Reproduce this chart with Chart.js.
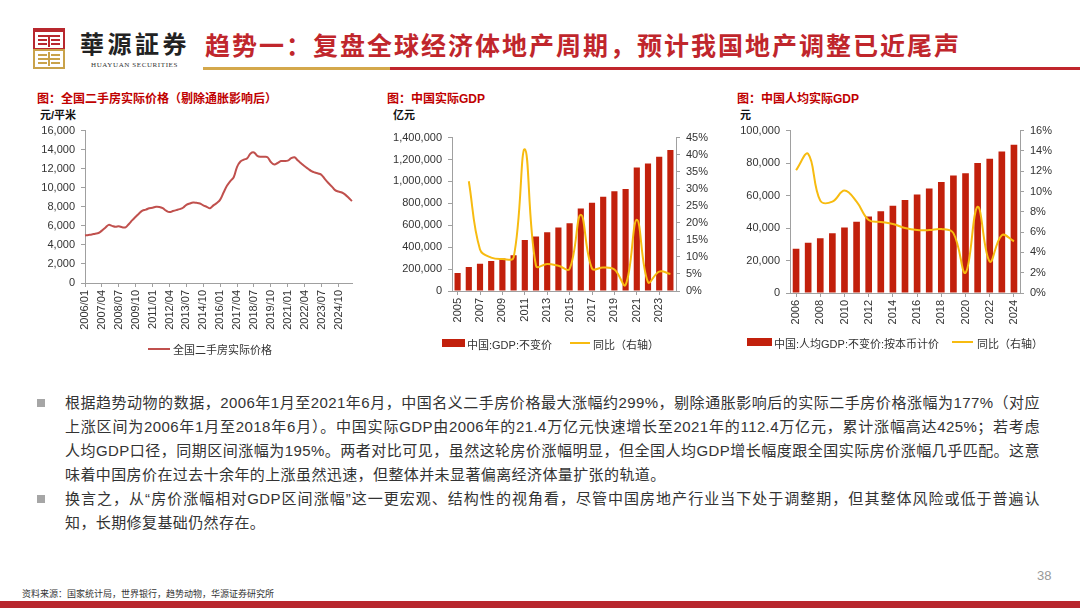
<!DOCTYPE html>
<html>
<head>
<meta charset="utf-8">
<script src="https://cdn.jsdelivr.net/npm/chart.js@4/dist/chart.umd.min.js"></script>
<style>
  html, body { margin: 0; padding: 0; background: #fff; }
  body { width: 1080px; height: 608px; position: relative; overflow: hidden;
         font-family: "Liberation Sans", Arial, "Noto Sans CJK SC", sans-serif; color: #333; }
  .abs { position: absolute; white-space: nowrap; }
  .ctitle { font-size: 12px; font-weight: bold; color: #c00000; font-family: "Liberation Sans", "Noto Sans CJK SC", sans-serif; }
  .unit { font-size: 11px; font-weight: bold; color: #111; }
  .leg { font-size: 11px; color: #333; }
  canvas { position: absolute; }
  .para { position: absolute; left: 65px; width: 975px; font-size: 15px; line-height: 24px; color: #333; letter-spacing: 0.4px; }
  .ln { white-space: nowrap; }
  .j { text-align: justify; text-align-last: justify; }
  .bullet { position: absolute; left: 37px; width: 8px; height: 8px; background: #a6a6a6; }
</style>
</head>
<body>

<!-- header -->
<svg class="abs" style="left:33px;top:28px" width="32" height="41" viewBox="0 0 32 41">
  <rect x="1" y="1" width="30" height="20" fill="none" stroke="#b8282e" stroke-width="2"/>
  <rect x="1" y="1" width="30" height="3" fill="#b8282e"/>
  <rect x="5" y="7" width="22" height="2" fill="#b8282e"/>
  <rect x="5" y="11" width="9" height="2" fill="#b8282e"/>
  <rect x="18" y="11" width="9" height="2" fill="#b8282e"/>
  <rect x="5" y="15" width="9" height="2" fill="#b8282e"/>
  <rect x="18" y="15" width="9" height="2" fill="#b8282e"/>
  <rect x="15" y="7" width="2" height="12" fill="#b8282e"/>
  <rect x="1" y="22" width="30" height="18" fill="none" stroke="#c9a24a" stroke-width="2"/>
  <rect x="5" y="26" width="9" height="2" fill="#c9a24a"/>
  <rect x="18" y="26" width="9" height="2" fill="#c9a24a"/>
  <rect x="5" y="30" width="22" height="2" fill="#c9a24a"/>
  <rect x="5" y="34" width="9" height="2" fill="#c9a24a"/>
  <rect x="18" y="34" width="9" height="2" fill="#c9a24a"/>
  <rect x="15" y="24" width="2" height="14" fill="#c9a24a"/>
</svg>
<div class="abs" style="left:80px;top:28px;font-size:24px;font-weight:bold;letter-spacing:3.5px;color:#222;font-family:'Noto Sans CJK TC',sans-serif;line-height:30px">華源証券</div>
<div class="abs" style="left:91px;top:61px;font-size:7px;letter-spacing:0.6px;color:#333;font-family:'Liberation Serif',serif">HUAYUAN SECURITIES</div>
<div class="abs" style="left:205px;top:28px;font-size:25px;font-weight:bold;letter-spacing:2px;color:#c0262c;font-family:'Noto Sans CJK SC',sans-serif;line-height:33px">趋势一：复盘全球经济体地产周期，预计我国地产调整已近尾声</div>
<div class="abs" style="left:203px;top:67px;width:187px;height:3px;background:#d4a84b"></div>
<div class="abs" style="left:390px;top:67px;width:690px;height:3px;background:#c0262c"></div>

<!-- chart titles / units -->
<div class="abs ctitle" style="left:37px;top:89px">图：全国二手房实际价格（剔除通胀影响后）</div>
<div class="abs unit" style="left:40px;top:106px">元/平米</div>
<div class="abs ctitle" style="left:387px;top:89px">图：中国实际GDP</div>
<div class="abs unit" style="left:393px;top:106px">亿元</div>
<div class="abs ctitle" style="left:737px;top:89px">图：中国人均实际GDP</div>
<div class="abs unit" style="left:740px;top:106px">元</div>

<canvas id="c1" width="330" height="230" style="left:30px;top:118px"></canvas>
<canvas id="c2" width="330" height="215" style="left:385px;top:125px"></canvas>
<canvas id="c3" width="330" height="222" style="left:735px;top:118px"></canvas>

<!-- legends -->
<div class="abs" style="left:148px;top:348px;width:22px;height:2px;background:#c0504d"></div>
<div class="abs leg" style="left:173px;top:341px">全国二手房实际价格</div>

<div class="abs" style="left:442px;top:339px;width:23px;height:8px;background:#c2200c"></div>
<div class="abs leg" style="left:467px;top:336px">中国:GDP:不变价</div>
<div class="abs" style="left:570px;top:342px;width:20px;height:2px;background:#f7bb10"></div>
<div class="abs leg" style="left:593px;top:336px">同比（右轴）</div>

<div class="abs" style="left:747px;top:338px;width:25px;height:8px;background:#c2200c"></div>
<div class="abs leg" style="left:774px;top:335px">中国:人均GDP:不变价:按本币计价</div>
<div class="abs" style="left:952px;top:341px;width:21px;height:2px;background:#f7bb10"></div>
<div class="abs leg" style="left:977px;top:335px">同比（右轴）</div>

<!-- body text -->
<div class="bullet" style="top:399px"></div>
<div class="bullet" style="top:495px"></div>
<div class="para" style="top:391px">
  <div class="ln j">根据趋势动物的数据，2006年1月至2021年6月，中国名义二手房价格最大涨幅约299%，剔除通胀影响后的实际二手房价格涨幅为177%（对应</div>
  <div class="ln j">上涨区间为2006年1月至2018年6月）。中国实际GDP由2006年的21.4万亿元快速增长至2021年的112.4万亿元，累计涨幅高达425%；若考虑</div>
  <div class="ln j">人均GDP口径，同期区间涨幅为195%。两者对比可见，虽然这轮房价涨幅明显，但全国人均GDP增长幅度跟全国实际房价涨幅几乎匹配。这意</div>
  <div class="ln">味着中国房价在过去十余年的上涨虽然迅速，但整体并未显著偏离经济体量扩张的轨道。</div>
  <div class="ln j">换言之，从“房价涨幅相对GDP区间涨幅”这一更宏观、结构性的视角看，尽管中国房地产行业当下处于调整期，但其整体风险或低于普遍认</div>
  <div class="ln">知，长期修复基础仍然存在。</div>
</div>

<!-- footer -->
<div class="abs" style="left:1037px;top:568px;font-size:13px;color:#999">38</div>
<div class="abs" style="left:22px;top:587px;font-size:9px;color:#333;font-family:'Noto Sans CJK SC',sans-serif">资料来源：国家统计局，世界银行，趋势动物，华源证券研究所</div>
<div class="abs" style="left:0;top:601px;width:1080px;height:7px;background:#b8272d"></div>

<script>
// ---- 图1：全国二手房实际价格（季度取值）
const priceLabels = [
  '2006/01','2006/04','2006/07','2006/10','2007/01','2007/04','2007/07','2007/10',
  '2008/01','2008/04','2008/07','2008/10','2009/01','2009/04','2009/07','2009/10',
  '2010/01','2010/04','2010/07','2010/10','2011/01','2011/04','2011/07','2011/10',
  '2012/01','2012/04','2012/07','2012/10','2013/01','2013/04','2013/07','2013/10',
  '2014/01','2014/04','2014/07','2014/10','2015/01','2015/04','2015/07','2015/10',
  '2016/01','2016/04','2016/07','2016/10','2017/01','2017/04','2017/07','2017/10',
  '2018/01','2018/04','2018/07','2018/10','2019/01','2019/04','2019/07','2019/10',
  '2020/01','2020/04','2020/07','2020/10','2021/01','2021/04','2021/07','2021/10',
  '2022/01','2022/04','2022/07','2022/10','2023/01','2023/04','2023/07','2023/10',
  '2024/01','2024/04','2024/07','2024/10','2025/01','2025/04','2025/07','2025/10'
];
const priceValues = [
  4990, 5050, 5100, 5180, 5250, 5500, 5800, 6100,
  6000, 5900, 5950, 5850, 5850, 6200, 6600, 6950,
  7300, 7600, 7700, 7850, 7900, 8000, 7980, 7850,
  7600, 7450, 7550, 7650, 7750, 7900, 8200, 8350,
  8450, 8420, 8350, 8150, 8000, 7850, 8150, 8400,
  8750, 9500, 10200, 10700, 11100, 12200, 12750, 12950,
  13100, 13600, 13700, 13350, 13250, 13250, 13200, 12700,
  12450, 12600, 12800, 12800, 12850, 13100, 13200, 12850,
  12550, 12250, 12000, 11750, 11600, 11500, 11350, 10900,
  10500, 10150, 9750, 9600, 9500, 9280, 8950, 8600
];

// ---- 图2：中国实际GDP（亿元）及同比（%）
const gdpYears = ['2005','2006','2007','2008','2009','2010','2011','2012','2013','2014',
                  '2015','2016','2017','2018','2019','2020','2021','2022','2023','2024'];
const gdpValues = [165000, 219000, 249000, 273000, 296000, 327000, 465000, 498000, 537000, 579000,
                   618000, 752000, 806000, 860000, 911000, 932000, 1127000, 1163000, 1226000, 1286000];
const gdpYoY = [null, 32.2, 12.2, 9.8, 9.4, 9.8, 41.6, 7.4, 7.9, 7.4,
                6.5, 22.4, 6.6, 6.9, 6.3, 1.8, 20.9, 2.6, 5.7, 5.0];

// ---- 图3：中国人均实际GDP（元）及同比（%）
const pcYears = ['2006','2007','2008','2009','2010','2011','2012','2013','2014','2015',
                 '2016','2017','2018','2019','2020','2021','2022','2023','2024'];
const pcValues = [27300, 30900, 33700, 36800, 40400, 43800, 47100, 50300, 53700, 57200,
                  60600, 64400, 68300, 72300, 73700, 80000, 82600, 87100, 91300];
const pcYoY = [12.1, 13.7, 9.1, 9.0, 10.1, 9.0, 7.2, 7.0, 6.8, 6.4,
               6.2, 6.2, 6.3, 5.9, 2.0, 8.5, 3.1, 5.7, 5.1];

const barColor = '#c2200c';
const yoyColor = '#f7bb10';
const axisColor = '#a0a0a0';

Chart.defaults.font.family = '"Liberation Sans", Arial, "Noto Sans CJK SC", sans-serif';
Chart.defaults.font.size = 11;
Chart.defaults.color = '#333';

function fixW(w) { return function(scale) { scale.width = w; }; }
function fixH(h) { return function(scale) { scale.height = h; }; }

function yScale(min, max, step, width, position, fmt) {
    return {
        position: position,
        min: min, max: max,
        afterFit: fixW(width),
        border: { display: true, color: axisColor },
        grid: { drawOnChartArea: false, drawTicks: true, tickLength: 4, color: axisColor },
        ticks: { stepSize: step, padding: 6, callback: fmt }
    };
}

function xScale(height, every, offset) {
    return {
        offset: offset,
        afterFit: fixH(height),
        border: { display: true, color: axisColor },
        grid: { drawOnChartArea: false, drawTicks: true, tickLength: 4, color: axisColor, offset: false },
        ticks: {
            autoSkip: false, minRotation: 90, maxRotation: 90, padding: 3,
            callback: function(v, i) { return i % every === 0 ? this.getLabelForValue(v) : null; }
        }
    };
}

const commas = v => v.toLocaleString('en-US');
const pct = v => v + '%';

const baseOptions = {
    responsive: false,
    animation: false,
    devicePixelRatio: 1,
    plugins: { legend: { display: false }, tooltip: { enabled: false } }
};

// 图1
new Chart(document.getElementById('c1'), {
    type: 'line',
    data: {
        labels: priceLabels,
        datasets: [{
            label: '全国二手房实际价格',
            data: priceValues,
            borderColor: '#c0504d',
            borderWidth: 2,
            pointRadius: 0,
            tension: 0.4
        }]
    },
    options: Object.assign({}, baseOptions, {
        layout: { padding: { top: 10, right: 8 } },
        scales: {
            x: xScale(65, 5, false),
            y: yScale(0, 16000, 2000, 55, 'left', commas)
        }
    })
});

// 图2
new Chart(document.getElementById('c2'), {
    type: 'bar',
    data: {
        labels: gdpYears,
        datasets: [{
            type: 'line',
            label: '同比（右轴）',
            data: gdpYoY,
            yAxisID: 'y1',
            borderColor: yoyColor,
            borderWidth: 2,
            pointRadius: 0,
            tension: 0.4,
            order: 0
        }, {
            label: '中国:GDP:不变价',
            data: gdpValues,
            backgroundColor: barColor,
            barPercentage: 0.55,
            categoryPercentage: 1,
            order: 1
        }]
    },
    options: Object.assign({}, baseOptions, {
        layout: { padding: { top: 10 } },
        scales: {
            x: xScale(49, 2, true),
            y: yScale(0, 1400000, 200000, 67, 'left', commas),
            y1: yScale(0, 45, 5, 39, 'right', pct)
        }
    })
});

// 图3
new Chart(document.getElementById('c3'), {
    type: 'bar',
    data: {
        labels: pcYears,
        datasets: [{
            type: 'line',
            label: '同比（右轴）',
            data: pcYoY,
            yAxisID: 'y1',
            borderColor: yoyColor,
            borderWidth: 2,
            pointRadius: 0,
            tension: 0.4,
            order: 0
        }, {
            label: '中国:人均GDP:不变价:按本币计价',
            data: pcValues,
            backgroundColor: barColor,
            barPercentage: 0.55,
            categoryPercentage: 1,
            order: 1
        }]
    },
    options: Object.assign({}, baseOptions, {
        layout: { padding: { top: 10 } },
        scales: {
            x: xScale(47, 2, true),
            y: yScale(0, 100000, 20000, 55, 'left', commas),
            y1: yScale(0, 16, 2, 45, 'right', pct)
        }
    })
});
</script>
</body>
</html>
